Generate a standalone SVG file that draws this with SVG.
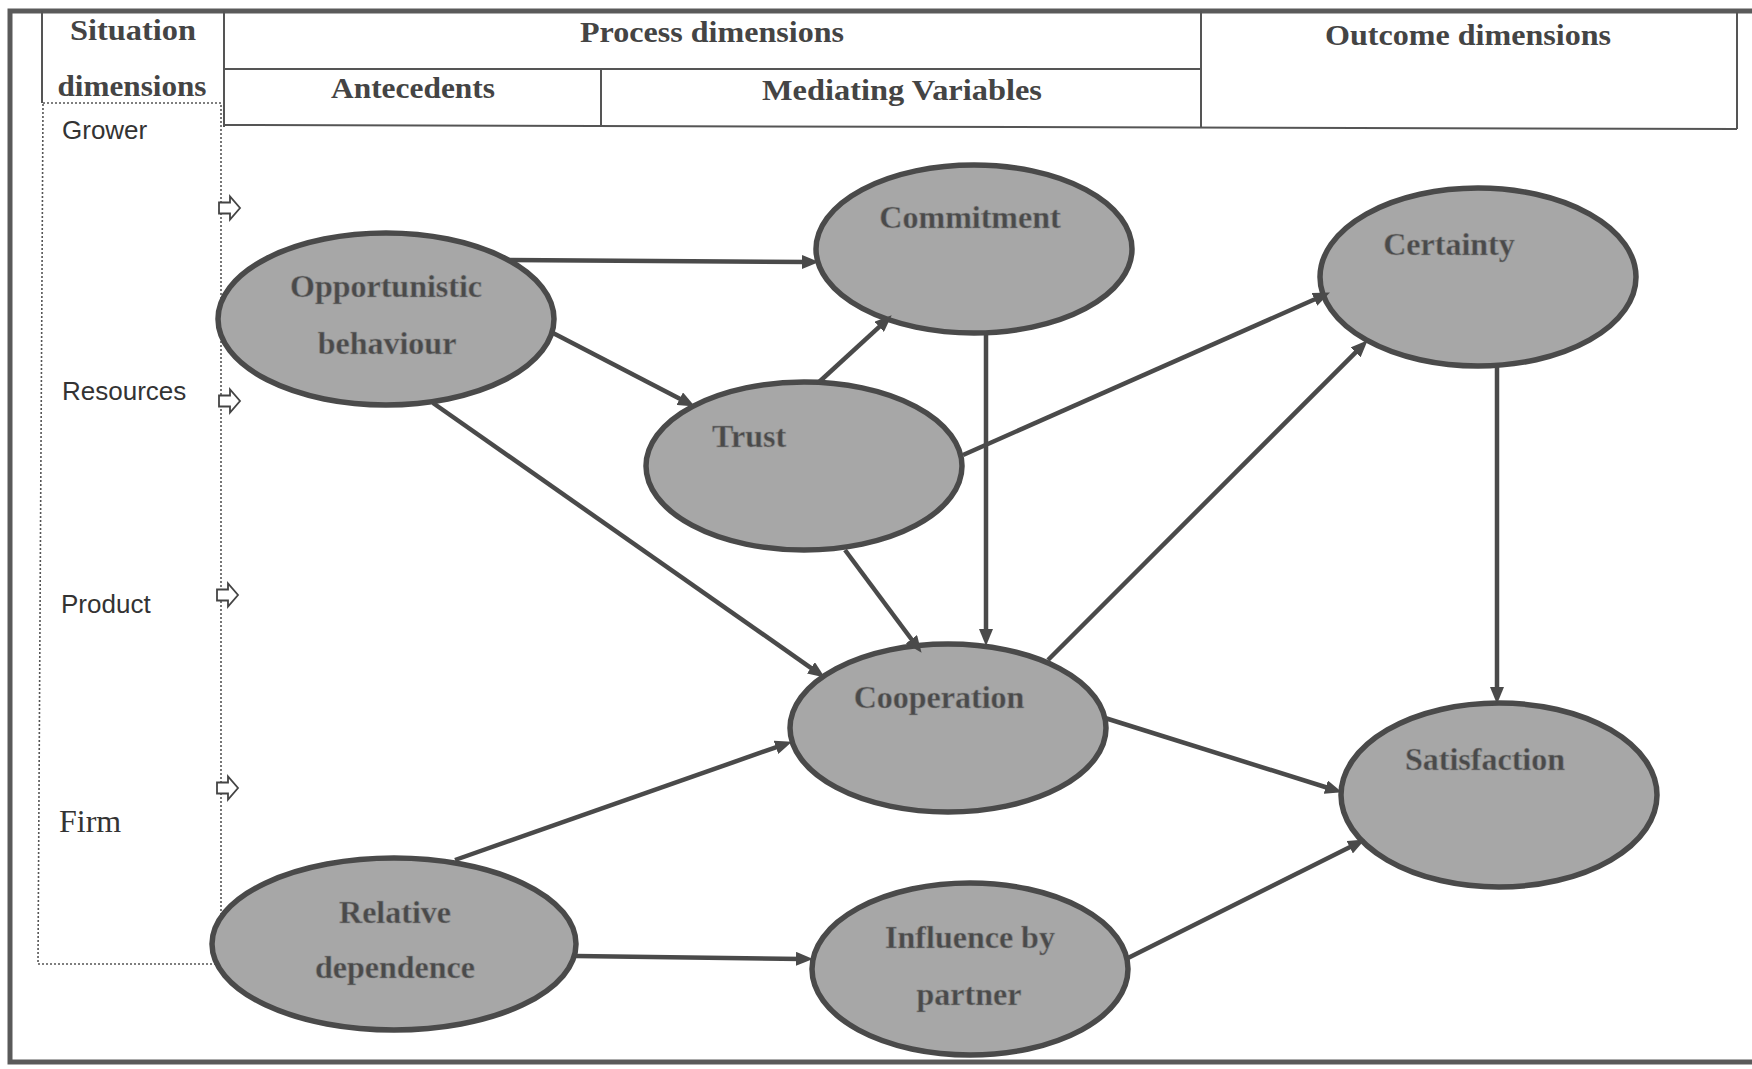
<svg xmlns="http://www.w3.org/2000/svg" width="1752" height="1069" viewBox="0 0 1752 1069">
<style>
.frame{fill:none;stroke:#5a5a5a;stroke-width:5}
.tbl{fill:none;stroke:#555;stroke-width:2}
.dot{fill:none;stroke:#555;stroke-width:1.6;stroke-dasharray:2 2}
.hdr{font-family:"Liberation Serif","Times New Roman",serif;font-weight:bold;font-size:29px;fill:#444;text-anchor:middle}
.side{font-family:"Liberation Sans",Arial,sans-serif;font-size:26px;fill:#333}
.firm{font-family:"Liberation Serif","Times New Roman",serif;font-size:32px;fill:#333}
.node ellipse{fill:#a7a7a7;stroke:#4a4a4a;stroke-width:5.5}
.node text{font-family:"Liberation Serif","Times New Roman",serif;font-weight:bold;font-size:32px;fill:#4a4a4a;text-anchor:middle;stroke:#8a8a8a;stroke-width:0.6}
.conn line{stroke:#4a4a4a;stroke-width:4.5}
.harrow{fill:#fff;stroke:#444;stroke-width:1.8}
</style>
<defs>
<marker id="ah" markerUnits="userSpaceOnUse" markerWidth="18" markerHeight="14" refX="6" refY="7" orient="auto">
<path d="M0,0 L17,7 L0,14 z" fill="#4a4a4a"/>
</marker>
</defs>
<rect width="1752" height="1069" fill="#fff"/>
<!-- outer frame -->
<path class="frame" d="M1752,11 H10 V1062 H1752"/>
<!-- table -->
<g id="table">
<line class="tbl" x1="42" y1="11" x2="42" y2="103"/>
<line class="tbl" x1="224" y1="11" x2="224" y2="127"/>
<line class="tbl" x1="224" y1="69" x2="1201" y2="69"/>
<line class="tbl" x1="601" y1="69" x2="601" y2="127"/>
<line class="tbl" x1="1201" y1="11" x2="1201" y2="128"/>
<line class="tbl" x1="224" y1="125" x2="1737" y2="129"/>
<line class="tbl" x1="1737" y1="12" x2="1737" y2="129"/>
<text class="hdr" x="133" y="40" textLength="126" lengthAdjust="spacingAndGlyphs">Situation</text>
<text class="hdr" x="132" y="96" textLength="149" lengthAdjust="spacingAndGlyphs">dimensions</text>
<text class="hdr" x="712" y="42" textLength="264" lengthAdjust="spacingAndGlyphs">Process dimensions</text>
<text class="hdr" x="413" y="98" textLength="164" lengthAdjust="spacingAndGlyphs">Antecedents</text>
<text class="hdr" x="902" y="100" textLength="280" lengthAdjust="spacingAndGlyphs">Mediating Variables</text>
<text class="hdr" x="1468" y="45" textLength="286" lengthAdjust="spacingAndGlyphs">Outcome dimensions</text>
</g>
<!-- situation dimensions box -->
<g id="situation">
<path class="dot" d="M43,103 H221 V964 H38 Z"/>
<text class="side" x="62" y="139">Grower</text>
<text class="side" x="62" y="400">Resources</text>
<text class="side" x="61" y="613">Product</text>
<text class="firm" x="59" y="832">Firm</text>
<path class="harrow" d="M219,202.5 h11 v-6 l10,11.5 l-10,11.5 v-6 h-11 z"/>
<path class="harrow" d="M219,395.5 h11 v-6 l10,11.5 l-10,11.5 v-6 h-11 z"/>
<path class="harrow" d="M217,589.5 h11 v-6 l10,11.5 l-10,11.5 v-6 h-11 z"/>
<path class="harrow" d="M217,782.5 h11 v-6 l10,11.5 l-10,11.5 v-6 h-11 z"/>
</g>
<!-- nodes -->
<g id="opportunistic" class="node"><ellipse cx="386" cy="319" rx="168" ry="86"/><text x="386" y="297">Opportunistic</text><text x="387" y="354">behaviour</text></g>
<g id="commitment" class="node"><ellipse cx="974" cy="249" rx="158" ry="84"/><text x="970" y="228">Commitment</text></g>
<g id="trust" class="node"><ellipse cx="804" cy="466" rx="158" ry="84"/><text x="749" y="447">Trust</text></g>
<g id="certainty" class="node"><ellipse cx="1478" cy="277" rx="158" ry="89"/><text x="1449" y="255">Certainty</text></g>
<g id="cooperation" class="node"><ellipse cx="948" cy="728" rx="158" ry="84"/><text x="939" y="708">Cooperation</text></g>
<g id="satisfaction" class="node"><ellipse cx="1499" cy="795" rx="158" ry="92"/><text x="1485" y="770">Satisfaction</text></g>
<g id="relative" class="node"><ellipse cx="394" cy="944" rx="182" ry="86"/><text x="395" y="923">Relative</text><text x="395" y="978">dependence</text></g>
<g id="influence" class="node"><ellipse cx="970" cy="969" rx="158" ry="86"/><text x="970" y="948">Influence by</text><text x="969" y="1005">partner</text></g>
<!-- connectors -->
<g id="connectors" class="conn">
<line x1="509" y1="260" x2="808" y2="262" marker-end="url(#ah)"/>
<line x1="553" y1="333" x2="685.1" y2="401.4" marker-end="url(#ah)"/>
<line x1="433" y1="403" x2="815.8" y2="671.3" marker-end="url(#ah)"/>
<line x1="818" y1="383" x2="883.6" y2="322.8" marker-end="url(#ah)"/>
<line x1="986" y1="333" x2="986" y2="635" marker-end="url(#ah)"/>
<line x1="963" y1="455" x2="1319.9" y2="297" marker-end="url(#ah)"/>
<line x1="845" y1="550" x2="915" y2="644" marker-end="url(#ah)"/>
<line x1="1048" y1="660" x2="1359.9" y2="348.1" marker-end="url(#ah)"/>
<line x1="1497" y1="366" x2="1497" y2="693" marker-end="url(#ah)"/>
<line x1="1105" y1="718" x2="1331.5" y2="789" marker-end="url(#ah)"/>
<line x1="455" y1="860" x2="781.6" y2="745.3" marker-end="url(#ah)"/>
<line x1="576" y1="956" x2="802" y2="958.9" marker-end="url(#ah)"/>
<line x1="1126" y1="959" x2="1355.1" y2="844.5" marker-end="url(#ah)"/>
</g>
</svg>
